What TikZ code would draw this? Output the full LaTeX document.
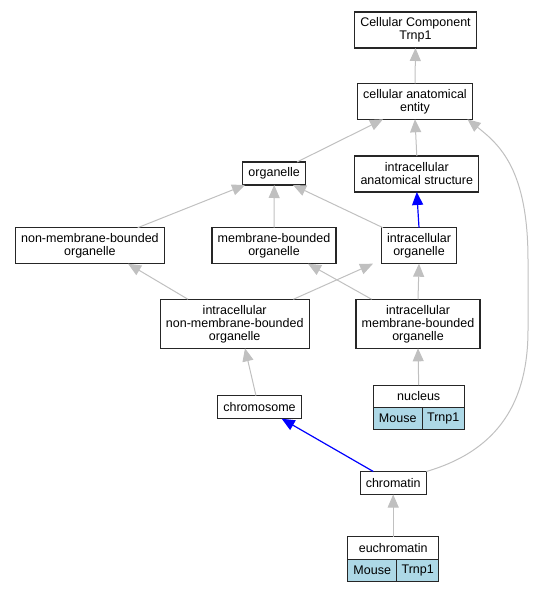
\documentclass[tikz,border=0pt]{standalone}
\usepackage{fontspec}
\setmainfont{Liberation Sans}
\usepackage{tikz}
\usetikzlibrary{arrows.meta, positioning}

\definecolor{isagray}{RGB}{192,192,192}
\definecolor{cellblue}{RGB}{173,216,230}

\begin{document}
\begin{tikzpicture}[x=1pt,y=-1pt,node distance=0pt]
  \tikzstyle{term}=[draw=black!85, line width=1.1pt, fill=white, text=black, align=center,
    inner xsep=5.7pt, inner ysep=1pt, outer sep=0pt, minimum height=23pt,
    font=\fontsize{12.5}{13}\selectfont]
  \tikzstyle{two}=[term, minimum height=36pt]
  \tikzstyle{three}=[term, minimum height=49pt]
  \tikzstyle{cell}=[term, fill=cellblue, inner xsep=0pt, minimum height=22pt]
  \tikzstyle{isa}=[draw=isagray, line width=1pt, -{Triangle[length=13pt,width=11pt]}]
  \tikzstyle{partof}=[draw=blue, line width=1.2pt, -{Triangle[length=13pt,width=11pt]}]

  \useasboundingbox (0,0) rectangle (534,592);

    \node[two]   (cc)    at (415.5,30)    {Cellular Component\\Trnp1};
    \node[two]   (cae)   at (415,101.3)   {cellular anatomical\\entity};
    \node[term]  (org)   at (274.2,173.5) {organelle};
    \node[two]   (ias)   at (416.8,174)   {intracellular\\anatomical structure};
    \node[two]   (nmbo)  at (89.9,245.7)  {non-membrane-bounded\\organelle};
    \node[two]   (mbo)   at (274,245.7)   {membrane-bounded\\organelle};
    \node[two]   (io)    at (419,245.7)   {intracellular\\organelle};
    \node[three] (inmbo) at (234.7,323.8) {intracellular\\non-membrane-bounded\\organelle};
    \node[three] (imbo)  at (418,323.8)   {intracellular\\membrane-bounded\\organelle};
    \node[term]  (chrom) at (259.5,407.2) {chromosome};
    \node[term]  (chr)   at (393.2,483)   {chromatin};

    % records with the mouse gene
    \node[term, minimum width=91pt, minimum height=22.3pt] (nuc) at (418.7,396.2) {nucleus};
    \node[cell, minimum width=49pt, anchor=north west] (nucM) at (nuc.south west) {Mouse};
    \node[cell, minimum width=42pt, right=of nucM] (nucT) {Trnp1};

    \node[term, minimum width=91pt, minimum height=22.3pt] (euch) at (393.2,548) {euchromatin};
    \node[cell, minimum width=49pt, anchor=north west] (euchM) at (euch.south west) {Mouse};
    \node[cell, minimum width=42pt, right=of euchM] (euchT) {Trnp1};

    \path
     (cae.north) edge [isa] (cc.south)
     ([xshift=22.8pt]org.north) edge [isa] ([xshift=-32pt]cae.south)
     (ias.north) edge [isa] (cae.south)
     ([xshift=47.8pt]nmbo.north) edge [isa] ([xshift=-29.2pt]org.south)
     (mbo.north) edge [isa] (org.south)
     ([xshift=-36pt]io.north) edge [isa] ([xshift=18.8pt]org.south)
     (io.north) edge [partof] (ias.south)
     ([xshift=-46.7pt]inmbo.north) edge [isa] ([xshift=38.1pt]nmbo.south)
     ([xshift=58.6pt]inmbo.north) edge [isa] ([xshift=-46pt]io.south)
     ([xshift=-46.3pt]imbo.north) edge [isa] ([xshift=34pt]mbo.south)
     (imbo.north) edge [isa] (io.south)
     ([xshift=-3.5pt]chrom.north) edge [isa] ([xshift=10.3pt]inmbo.south)
     (nuc.north) edge [isa] (imbo.south)
     ([xshift=-19.9pt]chr.north) edge [partof] ([xshift=22.2pt]chrom.south)
     (euch.north) edge [isa] (chr.south);

    \draw[isa] (chr.north east) .. controls (500,450) and (528,400) .. (528,330)
      -- (528,260) .. controls (528,170) and (500,145) .. ([xshift=-5pt]cae.south east);
\end{tikzpicture}
\end{document}
